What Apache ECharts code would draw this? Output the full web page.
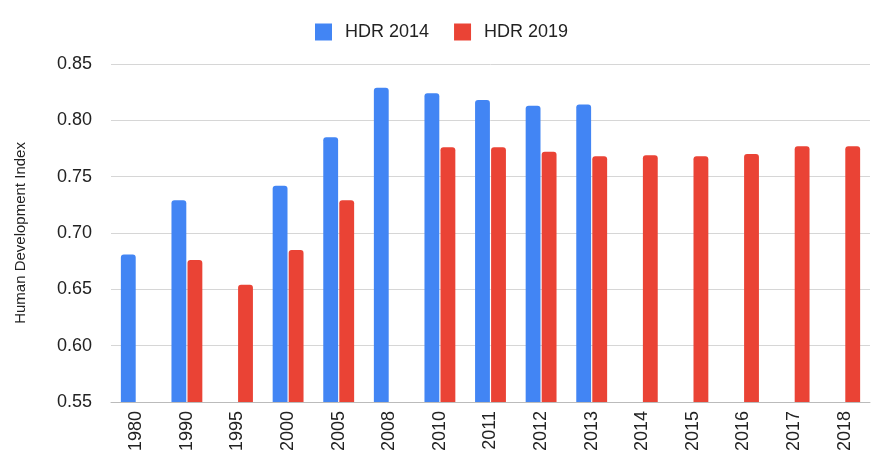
<!DOCTYPE html>
<html>
<head>
<meta charset="utf-8">
<style>
  html, body { margin: 0; padding: 0; background: #fff; }
  #chart { width: 875px; height: 454px; }
</style>
<script src="https://cdn.jsdelivr.net/npm/echarts@6/dist/echarts.min.js"></script>
</head>
<body>
<div id="chart"></div>
<script>
// 数据
var years = ["1980", "1990", "1995", "2000", "2005", "2008", "2010", "2011", "2012", "2013", "2014", "2015", "2016", "2017", "2018"];
var hdr2014 = [0.681, 0.729, null, 0.742, 0.785, 0.829, 0.824, 0.818, 0.813, 0.814, null, null, null, null, null];
var hdr2019 = [null, 0.676, 0.654, 0.685, 0.729, null, 0.776, 0.776, 0.772, 0.768, 0.769, 0.768, 0.770, 0.777, 0.777];
var yTicks = { min: 0.55, max: 0.85, interval: 0.05 };

(function() {
  var myChart = echarts.init(document.getElementById("chart"));
  var option = {
    animation: false,
    color: ["#4285f4", "#ea4335"],
    textStyle: { fontFamily: "Liberation Sans, Arial, sans-serif" },
    legend: {
      top: 18,
      left: 310,
      itemWidth: 17,
      itemHeight: 17,
      itemGap: 25,
      icon: "rect",
      textStyle: { color: "#222", fontSize: 18, padding: [0, 0, 0, 8] },
      data: ["HDR 2014", "HDR 2019"]
    },
    grid: {
      left: 111,
      right: 5,
      top: 64,
      bottom: 52
    },
    xAxis: {
      type: "category",
      data: years,
      axisTick: { show: false },
      axisLine: { lineStyle: { color: "#bbb" } },
      axisLabel: {
        rotate: 90,
        color: "#222",
        fontSize: 18,
        margin: 9,
        interval: 0
      }
    },
    yAxis: {
      type: "value",
      min: yTicks.min,
      max: yTicks.max,
      interval: yTicks.interval,
      name: "Human Development Index",
      nameLocation: "middle",
      nameGap: 83,
      nameTextStyle: { color: "#222", fontSize: 15 },
      axisLine: { show: false },
      axisTick: { show: false },
      axisLabel: {
        color: "#222",
        fontSize: 18,
        margin: 19,
        formatter: function(v) { return v.toFixed(2); }
      },
      splitLine: { lineStyle: { color: "#d6d6d6" } }
    },
    series: [
      {
        name: "HDR 2014",
        type: "bar",
        data: hdr2014,
        barCategoryGap: "39%",
        barGap: "8%",
        itemStyle: { borderRadius: [3, 3, 0, 0] }
      },
      {
        name: "HDR 2019",
        type: "bar",
        data: hdr2019,
        barCategoryGap: "39%",
        barGap: "8%",
        itemStyle: { borderRadius: [3, 3, 0, 0] }
      }
    ]
  };
  myChart.setOption(option);
  window.addEventListener("resize", function() {
    myChart.resize();
  });
})();
</script>
</body>
</html>
